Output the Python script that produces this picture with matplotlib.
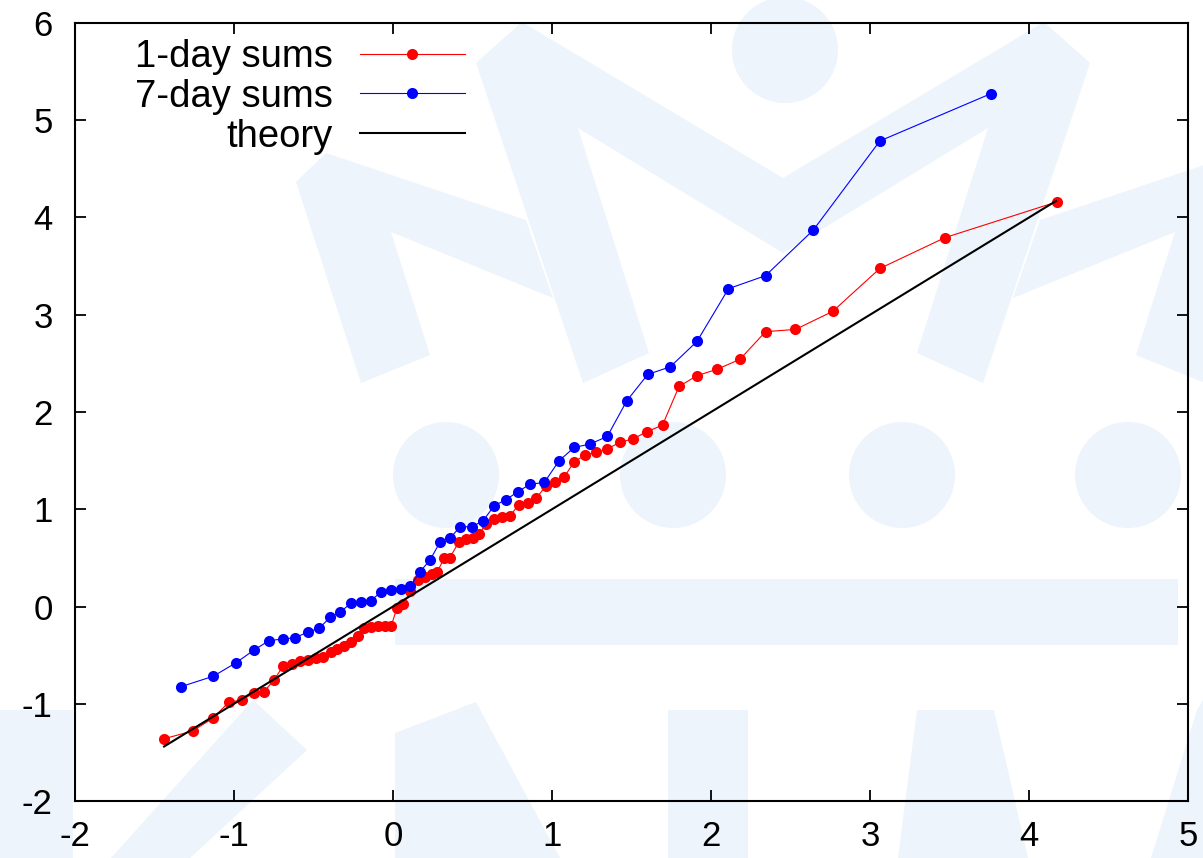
import matplotlib
matplotlib.use("Agg")
import matplotlib.pyplot as plt
from matplotlib.patches import Polygon, Ellipse, Rectangle
from matplotlib.transforms import Affine2D

# ---------------- data ----------------
day1_x = [-1.438, -1.260, -1.134, -1.033, -0.952, -0.877, -0.811, -0.748, -0.690, -0.638,
          -0.585, -0.536, -0.486, -0.438, -0.392, -0.350, -0.307, -0.265, -0.223, -0.182,
          -0.140, -0.096, -0.053, -0.011, 0.025, 0.066, 0.110, 0.159, 0.201, 0.243,
          0.279, 0.321, 0.358, 0.415, 0.459, 0.501, 0.543, 0.585, 0.635, 0.686,
          0.736, 0.792, 0.846, 0.899, 0.962, 1.019, 1.075, 1.140, 1.208, 1.277,
          1.348, 1.428, 1.509, 1.599, 1.695, 1.799, 1.912, 2.038, 2.182, 2.343,
          2.531, 2.765, 3.062, 3.473, 4.174]
day1_y = [-1.359, -1.280, -1.149, -0.985, -0.961, -0.892, -0.876, -0.755, -0.609, -0.596,
          -0.560, -0.550, -0.529, -0.524, -0.465, -0.440, -0.406, -0.370, -0.303, -0.224,
          -0.208, -0.203, -0.198, -0.198, -0.015, 0.021, 0.159, 0.272, 0.306, 0.331,
          0.358, 0.495, 0.502, 0.666, 0.691, 0.707, 0.742, 0.853, 0.899, 0.920,
          0.935, 1.048, 1.064, 1.112, 1.238, 1.283, 1.328, 1.488, 1.557, 1.585,
          1.619, 1.691, 1.722, 1.799, 1.865, 2.263, 2.374, 2.439, 2.542, 2.826,
          2.849, 3.034, 3.476, 3.794, 4.160]

day7_x = [-1.333, -1.130, -0.987, -0.876, -0.780, -0.692, -0.614, -0.536, -0.464, -0.394,
          -0.331, -0.266, -0.203, -0.140, -0.077, -0.014, 0.048, 0.110, 0.170, 0.233,
          0.297, 0.360, 0.423, 0.497, 0.568, 0.637, 0.711, 0.784, 0.862, 0.952,
          1.044, 1.140, 1.239, 1.348, 1.470, 1.602, 1.744, 1.912, 2.110, 2.343,
          2.643, 3.062, 3.761]
day7_y = [-0.824, -0.717, -0.578, -0.450, -0.351, -0.334, -0.321, -0.262, -0.224, -0.108,
          -0.057, 0.033, 0.049, 0.057, 0.149, 0.170, 0.177, 0.211, 0.358, 0.478,
          0.666, 0.707, 0.820, 0.820, 0.884, 1.038, 1.098, 1.179, 1.257, 1.276,
          1.498, 1.636, 1.670, 1.749, 2.114, 2.386, 2.465, 2.726, 3.268, 3.402,
          3.870, 4.787, 5.274]

theory_x = [-1.44, 4.17]
theory_y = [-1.44, 4.17]

x_ticks = [-2, -1, 0, 1, 2, 3, 4, 5]
y_ticks = [-2, -1, 0, 1, 2, 3, 4, 5, 6]
labels = ["1-day sums", "7-day sums", "theory"]

# ---------------- figure ----------------
W, H = 1203, 858
fig = plt.figure(figsize=(W / 100, H / 100), dpi=100)
fig.patch.set_facecolor("white")

# light watermark logo in figure pixel coordinates (y from top)
px = Affine2D().scale(1 / W, -1 / H).translate(0, 1) + fig.transFigure
wm = "#EDF4FB"
polys = [
    [(296, 182), (361, 383), (430, 355), (391, 232), (553, 298), (526, 220), (326, 153)],
    [(1270, 182), (1205, 383), (1136, 355), (1175, 232), (1013, 298), (1040, 220), (1240, 153)],
    [(476, 63), (522, 22), (783, 178), (1044, 22), (1090, 63), (983, 383), (917, 353),
     (988, 128), (783, 253), (578, 128), (649, 353), (583, 383)],
    [(253, 700), (307, 750), (190, 858), (111, 858)],
    [(0, 710), (73, 710), (73, 858), (0, 858)],
    [(395, 733), (476, 702), (560, 858), (395, 858)],
    [(917, 710), (994, 710), (1028, 858), (898, 858)],
    [(1197, 710), (1203, 700), (1203, 858), (1151, 858)],
]
for p in polys:
    fig.patches.append(Polygon(p, closed=True, facecolor=wm, edgecolor="none",
                               transform=px, zorder=-10))
for cx, cy in [(785, 50), (446, 475), (673, 475), (902, 475), (1128, 475)]:
    fig.patches.append(Ellipse((cx, cy), 106, 106, facecolor=wm, edgecolor="none",
                               transform=px, zorder=-10))
fig.patches.append(Rectangle((395, 579), 783, 66, facecolor=wm, edgecolor="none",
                             transform=px, zorder=-10))
fig.patches.append(Rectangle((668, 710), 80, 148, facecolor=wm, edgecolor="none",
                             transform=px, zorder=-10))

ax = fig.add_axes([75 / W, (H - 801) / H, 1113 / W, 778 / H])
ax.set_facecolor("none")

ax.plot(day1_x, day1_y, color="#FF0000", lw=0.8, marker="o", ms=8,
        markeredgewidth=0, label=labels[0], zorder=3)
ax.plot(day7_x, day7_y, color="#0000FF", lw=0.8, marker="o", ms=8,
        markeredgewidth=0, label=labels[1], zorder=3)
ax.plot(theory_x, theory_y, color="black", lw=1.5, label=labels[2], zorder=4)

ax.set_xlim(-2, 5)
ax.set_ylim(-2, 6)
ax.set_xticks(x_ticks)
ax.set_yticks(y_ticks)
ax.set_xticklabels([str(v) for v in x_ticks])
ax.set_yticklabels([str(v) for v in y_ticks])

fs = 25
for lab in ax.get_xticklabels() + ax.get_yticklabels():
    lab.set_fontfamily("Liberation Sans")
    lab.set_fontsize(fs)
ax.tick_params(direction="in", length=8, width=1.3, top=True, right=True)
ax.tick_params(axis="x", pad=14)
ax.tick_params(axis="y", pad=16)
for s in ax.spines.values():
    s.set_linewidth(1.5)

lfs = 27.5
leg = ax.legend(loc="upper right", bbox_to_anchor=((465 - 75) / 1113, (801 - 39) / 778),
                frameon=False, markerfirst=False, handlelength=2.75, handletextpad=0.72,
                labelspacing=0.1, borderaxespad=0, borderpad=0,
                prop={"family": "Liberation Sans", "size": lfs})

fig.savefig("out.png", dpi=100)
